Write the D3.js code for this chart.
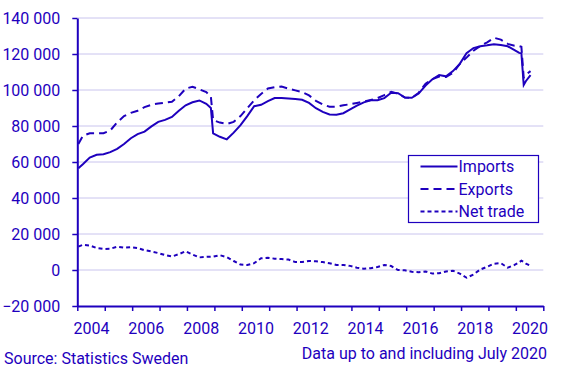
<!DOCTYPE html>
<html>
<head>
<meta charset="utf-8">
<script src="https://cdn.jsdelivr.net/npm/d3@7"></script>
<style>
  body { margin: 0; background: #fff; }
  text { font-family: Roboto, "Noto Sans", sans-serif; fill: #1e00be; }
</style>
</head>
<body>
<div id="chart"></div>
<script>
// data (SEK million, rolling)
const months = ["2004-01","2004-03","2004-06","2004-09","2004-12","2005-03","2005-06","2005-09","2005-12",
  "2006-03","2006-06","2006-09","2006-12","2007-03","2007-06","2007-09","2007-12","2008-03","2008-06","2008-09",
  "2008-11","2008-12","2009-03","2009-06","2009-09","2009-12","2010-03","2010-06","2010-09","2010-12",
  "2011-03","2011-06","2011-09","2011-12","2012-03","2012-06","2012-09","2012-12","2013-03","2013-06","2013-09",
  "2013-12","2014-03","2014-06","2014-09","2014-12","2015-03","2015-06","2015-09","2015-12","2016-03","2016-06",
  "2016-09","2016-12","2017-03","2017-06","2017-09","2017-12","2018-03","2018-06","2018-09","2018-12","2019-03",
  "2019-06","2019-09","2019-12","2020-02","2020-03","2020-04","2020-05","2020-07"];

const imports = [56500,58800,62500,64000,64300,65500,67300,70000,73200,
  75500,76900,79800,82300,83400,85000,88500,91500,93200,94200,92300,
  90000,75900,74000,72600,76300,80500,85500,91000,91800,93800,
  95500,95600,95300,95000,94600,92800,89900,87800,86400,86300,87100,
  89200,91300,93100,94300,94300,95500,98500,98200,95800,95700,98000,
  102500,106000,108300,107600,110500,114500,120400,123300,124300,124800,125400,
  125000,124300,122200,120600,120400,102800,105000,108300];

const exports = [70000,74500,76000,76000,76000,77500,82000,85500,87300,
  88500,90500,91800,92500,93000,93500,96500,100800,101800,100400,98800,
  96300,83300,81900,81100,82300,85500,89900,94300,97800,100800,
  101500,101900,100800,99800,98800,97000,94000,92000,90700,90700,91500,
  92100,92800,93600,94400,95500,97200,99000,98000,95800,95600,98500,
  103500,106000,107500,107200,109500,114500,118000,121800,124500,126500,129000,
  128000,125600,124600,124400,124000,106800,108500,110500];

const netTrade = [13000,14000,13600,12200,11700,11800,12900,12400,12700,
  12200,11000,10300,9400,8300,7500,8800,10400,8600,7000,7300,
  7400,7400,8200,7200,5000,3000,2800,3800,6500,6800,
  6300,6100,5800,4400,4500,5000,4800,4400,3800,2800,2800,
  2300,1300,700,1000,1700,2800,2200,0,-200,-1000,-1200,
  -800,-2000,-1800,-800,-400,-2000,-4300,-2500,300,1800,3500,
  3800,1300,2800,4300,5200,4500,3500,2400];

const yTicks = [-20000,0,20000,40000,60000,80000,100000,120000,140000];
const yearLabels = [2004,2006,2008,2010,2012,2014,2016,2018,2020];

const blue = "#1e00be";
const W = 568, H = 374;
const margin = {top: 18, right: 24.7, bottom: 68, left: 77.3},
    width = W - margin.left - margin.right,
    height = H - margin.top - margin.bottom;

const svg = d3.select("#chart")
  .append("svg")
    .attr("width", W)
    .attr("height", H);

const g = svg.append("g")
    .attr("transform", "translate(" + margin.left + "," + margin.top + ")");

const parse = d3.timeParse("%Y-%m");
const dates = months.map(m => d3.timeDay.offset(parse(m), 14));

const x = d3.scaleTime()
  .domain([new Date(2004, 0, 1), new Date(2021, 0, 1)])
  .range([0, width]);

const y = d3.scaleLinear()
  .domain([-20000, 140000])
  .range([height, 0]);

const fmt = v => d3.format(",")(v).replace(/,/g, " ");

// gridlines
g.selectAll(".grid")
  .data(yTicks.filter(v => v > -20000))
  .enter()
  .append("line")
    .attr("x1", 0)
    .attr("x2", width)
    .attr("y1", d => y(d))
    .attr("y2", d => y(d))
    .attr("stroke", "#c9c4ee")
    .attr("stroke-width", 1);

// Y axis
const yAxis = g.append("g")
  .call(d3.axisLeft(y).tickValues(yTicks).tickFormat(fmt).tickSize(5).tickSizeOuter(0).tickPadding(12));
yAxis.selectAll("text").style("font-size", "16px").attr("fill", blue);

// X axis: year ticks, labels in the middle of every other year
const xAxis = g.append("g")
  .attr("transform", "translate(0," + height + ")")
  .call(d3.axisBottom(x).tickValues(d3.range(2004, 2022).map(yr => new Date(yr, 0, 1)))
    .tickFormat("").tickSize(5).tickSizeOuter(0));

const xLab = g.append("g")
  .attr("transform", "translate(0," + height + ")")
  .call(d3.axisBottom(x).tickValues(yearLabels.map(yr => new Date(yr, 6, 2)))
    .tickFormat(d3.timeFormat("%Y")).tickSize(0).tickPadding(17));
xLab.select(".domain").remove();
xLab.selectAll("text").style("font-size", "16px").attr("fill", blue);

svg.selectAll(".domain, .tick line").attr("stroke", blue);
yAxis.select(".domain").attr("stroke-width", 2);
xAxis.select(".domain").attr("stroke-width", 2);
svg.selectAll(".tick line").attr("stroke-width", 1.5);

// lines
const series = [
  {name: "Imports", values: imports, dash: null},
  {name: "Exports", values: exports, dash: "8,5"},
  {name: "Net trade", values: netTrade, dash: "4,3"}
];

const line = d3.line()
  .x((d, i) => x(dates[i]))
  .y(d => y(d));

g.selectAll(".series")
  .data(series)
  .enter()
  .append("path")
    .attr("d", d => line(d.values))
    .attr("fill", "none")
    .attr("stroke", blue)
    .attr("stroke-width", 2)
    .attr("stroke-dasharray", d => d.dash);

// legend
const legend = svg.append("g").attr("transform", "translate(408.5,155.5)");
legend.append("rect")
  .attr("width", 130)
  .attr("height", 67)
  .attr("fill", "#fff")
  .attr("stroke", blue)
  .attr("stroke-width", 1.2);

const item = legend.selectAll(".item")
  .data(series)
  .enter()
  .append("g")
    .attr("transform", (d, i) => "translate(0," + (11 + i * 22.5) + ")");
item.append("line")
  .attr("x1", 12)
  .attr("x2", 49)
  .attr("stroke", blue)
  .attr("stroke-width", 2)
  .attr("stroke-dasharray", d => d.dash);
item.append("text")
  .attr("x", 50)
  .attr("dy", "0.35em")
  .style("font-size", "16px")
  .text(d => d.name);

// footer
svg.append("text")
  .attr("x", 4)
  .attr("y", 364)
  .style("font-size", "16px")
  .text("Source: Statistics Sweden");
svg.append("text")
  .attr("x", 547)
  .attr("y", 359)
  .attr("text-anchor", "end")
  .style("font-size", "16px")
  .text("Data up to and including July 2020");
</script>
</body>
</html>
